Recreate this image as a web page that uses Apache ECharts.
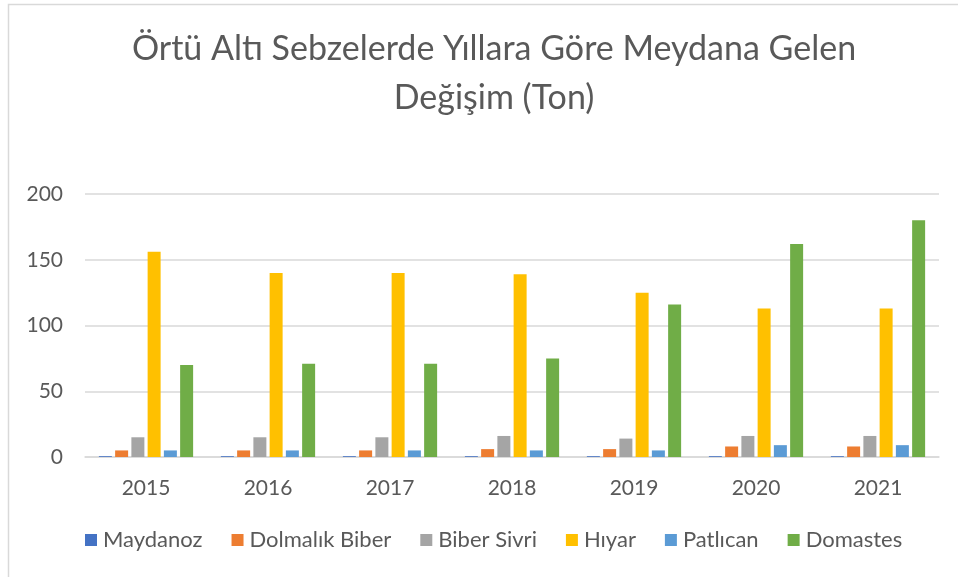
<!DOCTYPE html>
<html>
<head>
<meta charset="utf-8">
<script src="https://cdn.jsdelivr.net/npm/echarts@6/dist/echarts.min.js"></script>
<style>
  html, body { margin: 0; padding: 0; background: #fff; }
  #chart { width: 958px; height: 577px; }
</style>
</head>
<body>
<div id="chart"></div>
<script>
// yıllar
const years = ['2015', '2016', '2017', '2018', '2019', '2020', '2021'];

// seri değerleri (ton)
const maydanoz = [0.6, 0.6, 0.6, 0.6, 0.6, 0.6, 0.6];
const dolmalikBiber = [5, 5, 5, 6, 6, 8, 8];
const biberSivri = [15, 15, 15, 16, 14, 16, 16];
const hiyar = [156, 140, 140, 139, 125, 113, 113];
const patlican = [5, 5, 5, 5, 5, 9, 9];
const domastes = [70, 71, 71, 75, 116, 162, 180];

const yTicks = [0, 50, 100, 150, 200];

const seriesDefs = [
  { name: 'Maydanoz', data: maydanoz, color: '#4472C4' },
  { name: 'Dolmalık Biber', data: dolmalikBiber, color: '#ED7D31' },
  { name: 'Biber Sivri', data: biberSivri, color: '#A5A5A5' },
  { name: 'Hıyar', data: hiyar, color: '#FFC000' },
  { name: 'Patlıcan', data: patlican, color: '#5B9BD5' },
  { name: 'Domastes', data: domastes, color: '#70AD47' }
];

const font = 'Lato, "Open Sans", sans-serif';
const chart = echarts.init(document.getElementById('chart'));

chart.setOption({
  animation: false,
  textStyle: { fontFamily: font },
  graphic: [{
    type: 'rect',
    shape: { x: 8.5, y: 4.5, width: 1000, height: 1000 },
    style: { fill: 'none', stroke: '#d9d9d9', lineWidth: 1.5 },
    silent: true
  }],
  title: {
    text: 'Örtü Altı Sebzelerde Yıllara Göre Meydana Gelen\nDeğişim (Ton)',
    left: 489,
    textAlign: 'center',
    top: 20,
    textStyle: {
      fontFamily: font,
      fontSize: 34,
      fontWeight: 'normal',
      color: '#595959',
      lineHeight: 49
    }
  },
  legend: {
    bottom: 21,
    left: 80,
    itemWidth: 12,
    itemHeight: 12,
    itemGap: 29,
    icon: 'rect',
    textStyle: { fontFamily: font, fontSize: 22, color: '#595959', padding: [0, 0, 0, 1] },
    data: seriesDefs.map(s => s.name)
  },
  grid: { left: 85, right: 19, top: 194, bottom: 120 },
  xAxis: {
    type: 'category',
    data: years,
    axisLine: { lineStyle: { color: '#d9d9d9', width: 1.5 } },
    axisTick: { show: false },
    axisLabel: { fontFamily: font, fontSize: 21, color: '#595959', margin: 21 }
  },
  yAxis: {
    type: 'value',
    min: yTicks[0],
    max: yTicks[yTicks.length - 1],
    interval: 50,
    axisLine: { show: false },
    axisTick: { show: false },
    splitLine: { lineStyle: { color: '#d9d9d9', width: 1.5 } },
    axisLabel: { fontFamily: font, fontSize: 21, color: '#595959', margin: 22 }
  },
  series: seriesDefs.map(s => ({
    name: s.name,
    type: 'bar',
    data: s.data,
    barWidth: 13,
    barGap: '25%',
    itemStyle: { color: s.color }
  }))
});
</script>
</body>
</html>
